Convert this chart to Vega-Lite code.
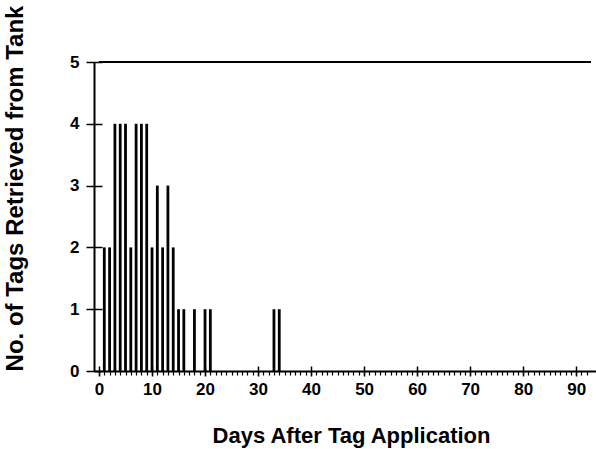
{
  "$schema": "https://vega.github.io/schema/vega-lite/v6.json",
  "autosize": {"type": "none"},
  "padding": {"left": 94, "top": 62, "right": 0, "bottom": 78},
  "width": 502,
  "height": 309,
  "background": "white",
  "config": {
    "view": {"stroke": null},
    "font": "Liberation Sans",
    "axis": {"labelFont": "Liberation Sans", "titleFont": "Liberation Sans", "labelColor": "black", "titleColor": "black", "tickColor": "black", "domainColor": "black", "grid": false}
  },
  "data": {"values": [
    {"day": 1, "n": 2}, {"day": 2, "n": 2}, {"day": 3, "n": 4}, {"day": 4, "n": 4},
    {"day": 5, "n": 4}, {"day": 6, "n": 2}, {"day": 7, "n": 4}, {"day": 8, "n": 4},
    {"day": 9, "n": 4}, {"day": 10, "n": 2}, {"day": 11, "n": 3}, {"day": 12, "n": 2},
    {"day": 13, "n": 3}, {"day": 14, "n": 2}, {"day": 15, "n": 1}, {"day": 16, "n": 1},
    {"day": 18, "n": 1}, {"day": 20, "n": 1}, {"day": 21, "n": 1}, {"day": 33, "n": 1},
    {"day": 34, "n": 1}
  ]},
  "resolve": {"axis": {"x": "independent", "y": "independent"}},
  "layer": [
    {
      "mark": {"type": "bar", "color": "black", "width": 2.8},
      "encoding": {
        "x": {"field": "day", "type": "quantitative",
          "scale": {"domain": [0, 92.8], "nice": false, "zero": false},
          "axis": {"orient": "bottom", "values": [0, 10, 20, 30, 40, 50, 60, 70, 80, 90], "domain": false, "offset": -5, "tickSize": 10, "tickWidth": 1.5,
            "labelFontSize": 17, "labelFontWeight": "bold", "labelPadding": 5, "labelFlush": false,
            "title": "Days After Tag Application", "titleFontSize": 22, "titleFontWeight": "bold", "titlePadding": 28, "titleX": 257}},
        "y": {"field": "n", "type": "quantitative",
          "scale": {"domain": [0, 5], "nice": false},
          "axis": {"orient": "left", "values": [0, 1, 2, 3, 4, 5], "domain": false, "offset": -8, "tickSize": 16, "tickWidth": 1.5,
            "labelFontSize": 17, "labelFontWeight": "bold", "labelPadding": 7,
            "title": "No. of Tags Retrieved from Tank", "titleFontSize": 24, "titleFontWeight": "bold", "titlePadding": 42, "titleY": 126}}
      }
    },
    {
      "mark": {"type": "bar", "opacity": 0},
      "encoding": {
        "x": {"field": "day", "type": "quantitative",
          "axis": {"orient": "bottom", "values": [0,1,2,3,4,5,6,7,8,9,10,11,12,13,14,15,16,17,18,19,20,21,22,23,24,25,26,27,28,29,30,31,32,33,34,35,36,37,38,39,40,41,42,43,44,45,46,47,48,49,50,51,52,53,54,55,56,57,58,59,60,61,62,63,64,65,66,67,68,69,70,71,72,73,74,75,76,77,78,79,80,81,82,83,84,85,86,87,88,89,90,91,92],
            "domain": true, "domainWidth": 2, "labels": false, "tickSize": 4, "tickWidth": 1.2, "title": null}},
        "y": {"field": "n", "type": "quantitative",
          "axis": {"orient": "left", "values": [], "domain": true, "domainWidth": 2, "labels": false, "ticks": false, "title": null}}
      }
    },
    {
      "data": {"values": [{}]},
      "mark": {"type": "rule", "color": "black", "strokeWidth": 2},
      "encoding": {
        "y": {"datum": 5, "type": "quantitative", "axis": null},
        "x": {"datum": 0, "type": "quantitative", "axis": null},
        "x2": {"datum": 92.8}
      }
    }
  ]
}
